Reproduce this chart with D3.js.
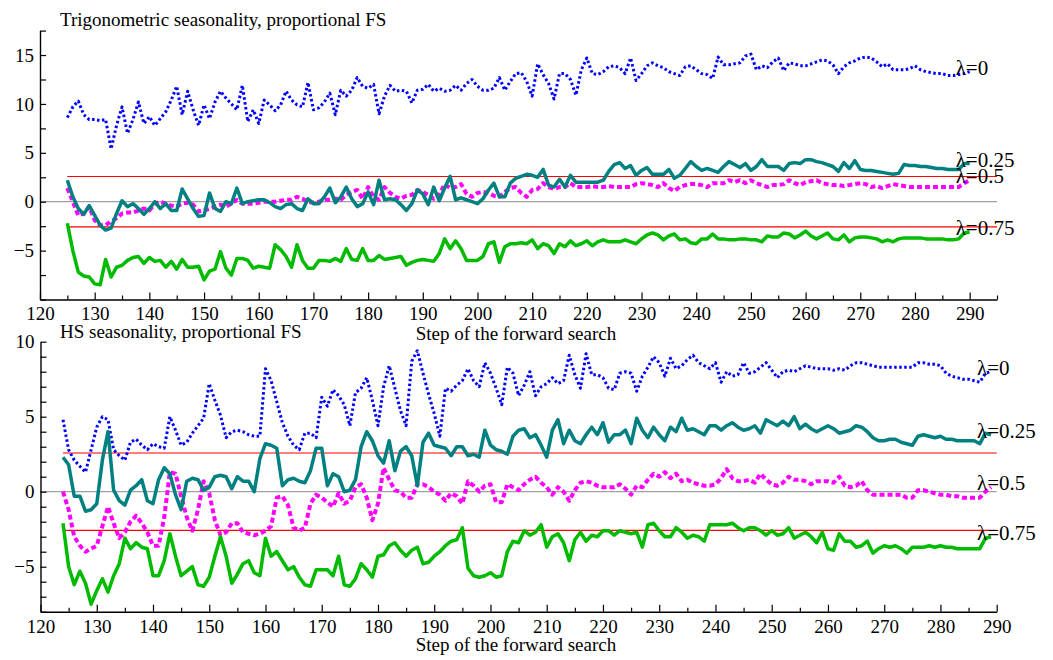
<!DOCTYPE html>
<html>
<head>
<meta charset="utf-8">
<script src="https://cdn.jsdelivr.net/npm/d3@7"></script>
<style>
    body { margin: 0; background: #fff; }
    svg text { font-family: "Liberation Serif", "Times New Roman", serif; fill: #000; }
</style>
</head>
<body>
<svg id="chart" width="1053" height="660"></svg>
<script>
// first step of the forward search shown in each panel
const topFirstStep = 125;
const bottomFirstStep = 124;

// Trigonometric seasonality, proportional FS (steps 125..290)
const topLambda0 = [
    8.6, 9.7, 10.3, 8.9, 8.4, 8.4, 8.3, 8.4, 5.4, 7.8,
    9.7, 7.0, 8.4, 10.2, 8.0, 8.7, 7.8, 8.5, 9.2, 10.4,
    11.8, 8.9, 11.3, 9.4, 7.8, 9.9, 8.5, 10.2, 11.3, 10.6,
    10.0, 9.4, 11.9, 8.2, 9.4, 8.0, 10.4, 9.9, 9.3, 9.9,
    11.3, 10.4, 9.9, 9.7, 12.2, 9.4, 9.6, 10.2, 11.1, 8.9,
    11.4, 10.8, 11.4, 12.7, 11.8, 11.6, 12.0, 9.0, 10.8, 11.9,
    11.3, 11.4, 11.3, 10.1, 11.4, 11.5, 12.0, 11.3, 11.6, 11.3,
    11.4, 11.9, 11.4, 12.1, 12.5, 11.8, 11.4, 11.4, 11.6, 12.7,
    11.4, 12.3, 13.1, 13.2, 12.3, 10.8, 14.1, 13.0, 12.1, 10.5,
    13.1, 13.1, 12.5, 10.9, 13.5, 14.7, 13.1, 13.0, 13.3, 13.8,
    13.9, 13.7, 13.1, 14.7, 12.4, 13.1, 13.9, 14.2, 13.9, 13.7,
    13.3, 13.1, 12.9, 13.8, 13.9, 13.5, 13.1, 13.0, 12.6, 14.8,
    14.0, 14.0, 14.1, 14.2, 14.9, 15.1, 13.5, 13.9, 13.7, 14.3,
    14.7, 13.4, 14.2, 14.1, 13.9, 13.9, 14.1, 14.3, 14.5, 14.4,
    14.0, 13.1, 13.8, 14.2, 14.4, 14.7, 14.8, 14.7, 14.3, 13.8,
    14.1, 13.5, 13.5, 13.5, 13.6, 13.9, 13.5, 13.3, 13.2, 13.1,
    13.1, 12.9, 12.9, 13.0, 13.1, 13.3
];
const topLambda025 = [
    2.2, 0.5, -0.7, -1.3, -0.4, -1.4, -2.4, -2.9, -2.7, -1.2,
    0.1, -0.5, -0.2, -0.7, -1.3, -0.7, 0.0, -0.7, -0.2, -0.9,
    -0.9, 1.3, 0.3, -0.7, -1.5, -1.4, 0.9, -0.7, -1.0, 0.0,
    -0.2, 1.4, -0.2, 0.0, 0.1, 0.2, 0.2, -0.1, -0.5, -0.7,
    -0.3, -0.2, -0.7, -0.9, 0.3, -0.2, -0.2, 0.5, 1.4, -0.1,
    0.5, 1.5, 0.3, -0.5, -0.2, 1.0, -0.3, 2.2, 0.2, 0.3,
    0.2, -0.3, -0.9, -0.2, 1.2, 0.8, -0.3, 1.5, 0.1, 1.4,
    2.6, 0.2, 0.4, 0.2, 0.0, -0.2, 0.3, 1.2, 1.9, 0.5,
    0.5, 1.9, 2.4, 2.6, 2.8, 2.7, 2.5, 3.3, 1.7, 1.5,
    2.3, 1.5, 2.7, 2.0, 2.0, 2.0, 2.0, 2.0, 2.2, 3.1,
    3.8, 4.0, 3.4, 3.7, 2.7, 3.2, 3.5, 2.8, 2.8, 2.8,
    3.3, 2.4, 2.7, 3.4, 4.1, 3.6, 3.2, 3.4, 3.2, 3.0,
    3.6, 4.1, 3.8, 3.5, 3.9, 3.2, 3.6, 4.3, 3.6, 3.6,
    3.6, 3.2, 3.9, 4.0, 3.9, 4.3, 4.3, 4.1, 4.0, 3.8,
    3.6, 3.1, 4.0, 3.4, 4.2, 3.3, 3.2, 3.2, 3.1, 3.0,
    2.9, 2.8, 2.9, 3.8, 3.7, 3.7, 3.6, 3.6, 3.5, 3.4,
    3.4, 3.3, 3.3, 3.3, 3.9, 3.9
];
const topLambda05 = [
    1.4, 0.0, -1.4, -1.2, -0.5, -1.9, -2.4, -2.4, -2.0, -1.7,
    -1.2, -1.1, -1.1, -0.9, -0.7, -0.9, -0.2, 0.0, -0.2, -0.4,
    -0.5, -0.2, -0.1, -0.3, -1.0, -0.9, -0.7, -0.5, -0.3, -0.5,
    -0.2, 0.2, -0.2, -0.2, -0.2, -0.1, 0.0, 0.0, 0.0, 0.1,
    0.2, 0.2, 0.5, 0.3, 0.0, -0.1, 0.0, 0.2, 0.2, 0.3,
    0.2, 0.7, 1.0, 1.2, 0.3, 1.5, 0.5, 0.2, 1.5, 0.9,
    0.5, 0.3, 0.6, 0.7, 1.2, 1.0, 0.7, 0.3, 0.7, 1.8,
    1.4, 1.5, 1.8, 0.8, 0.5, 0.9, 1.0, 0.9, 0.6, 0.5,
    1.0, 1.4, 1.5, 0.9, 0.5, 1.2, 1.3, 1.9, 1.5, 1.3,
    1.5, 1.5, 1.9, 1.5, 1.5, 1.5, 1.6, 1.5, 1.5, 1.6,
    1.5, 1.5, 1.5, 1.5, 1.8, 1.9, 1.8, 1.7, 1.5, 1.9,
    1.4, 1.1, 1.5, 1.7, 1.8, 1.8, 1.7, 1.5, 1.9, 1.9,
    1.9, 2.2, 2.0, 2.2, 1.9, 2.2, 1.9, 1.7, 1.5, 1.7,
    1.7, 1.8, 2.2, 1.9, 1.7, 2.0, 2.1, 2.2, 1.9, 1.8,
    1.7, 1.7, 1.6, 1.7, 1.8, 1.9, 1.8, 1.5, 1.6, 1.4,
    1.6, 1.8, 1.7, 1.6, 1.5, 1.5, 1.5, 1.5, 1.5, 1.5,
    1.5, 1.5, 1.5, 1.5, 1.9, 2.2
];
const topLambda075 = [
    -2.2, -5.0, -7.2, -7.6, -7.7, -8.4, -8.5, -5.9, -7.7, -6.7,
    -6.5, -6.0, -5.7, -5.6, -6.3, -5.7, -6.1, -6.0, -6.7, -6.1,
    -6.9, -5.9, -6.7, -6.7, -6.6, -8.0, -7.1, -6.9, -5.1, -6.8,
    -7.5, -5.8, -5.8, -6.0, -6.8, -6.6, -6.7, -6.8, -4.4, -4.9,
    -5.6, -6.7, -4.4, -6.0, -6.8, -6.8, -6.0, -6.0, -6.1, -5.8,
    -6.1, -4.8, -5.9, -6.0, -4.8, -6.0, -6.0, -5.5, -5.9, -5.8,
    -5.7, -5.6, -6.5, -6.2, -6.0, -5.9, -6.0, -6.1, -5.3, -3.8,
    -4.8, -4.0, -4.8, -6.0, -6.0, -6.0, -5.6, -4.3, -4.1, -6.2,
    -4.6, -4.3, -4.3, -4.2, -4.3, -3.9, -4.8, -4.3, -4.5, -5.3,
    -4.3, -4.6, -4.0, -4.5, -4.3, -4.0, -4.5, -4.1, -3.9, -4.1,
    -4.1, -4.1, -3.9, -4.1, -4.3, -3.8, -3.4, -3.2, -3.4, -3.9,
    -3.5, -3.3, -3.9, -3.8, -4.2, -4.3, -3.8, -3.8, -3.3, -3.8,
    -3.8, -3.9, -3.9, -3.8, -3.8, -3.9, -3.9, -4.1, -3.5, -3.6,
    -3.6, -3.2, -3.3, -3.7, -3.4, -3.0, -3.5, -3.8, -3.5, -3.2,
    -3.8, -3.9, -3.4, -4.1, -3.7, -3.6, -3.6, -3.7, -3.8, -4.1,
    -3.9, -4.1, -3.8, -3.7, -3.7, -3.7, -3.7, -3.8, -3.8, -3.8,
    -3.8, -3.9, -3.9, -3.8, -3.2, -3.1
];

// HS seasonality, proportional FS (steps 124..289)
const bottomLambda0 = [
    4.8, 2.8, 2.1, 1.7, 1.3, 2.8, 4.3, 5.0, 4.8, 2.8,
    2.4, 2.1, 3.3, 3.5, 3.1, 2.8, 3.2, 3.0, 2.9, 5.0,
    4.1, 3.1, 3.3, 3.9, 4.4, 4.9, 7.2, 6.1, 5.1, 3.6,
    4.0, 4.1, 4.0, 3.8, 3.7, 3.7, 8.2, 7.4, 6.0, 4.6,
    3.7, 3.1, 2.8, 3.9, 3.9, 3.6, 6.3, 5.7, 6.8, 6.4,
    5.8, 4.4, 6.6, 6.9, 7.6, 6.1, 4.4, 7.0, 8.4, 6.9,
    5.4, 4.4, 8.7, 9.4, 7.9, 6.5, 5.2, 3.7, 6.9, 6.7,
    7.1, 7.4, 8.2, 7.4, 7.0, 8.6, 7.9, 6.9, 5.8, 8.3,
    7.9, 6.4, 7.1, 8.0, 6.4, 7.0, 7.2, 7.6, 7.2, 7.4,
    9.1, 7.8, 6.9, 9.2, 7.8, 7.8, 7.6, 6.9, 6.8, 7.9,
    8.0, 7.9, 6.7, 7.7, 8.3, 9.0, 8.6, 7.7, 8.9, 8.2,
    8.4, 8.8, 9.1, 8.6, 8.4, 8.2, 8.6, 7.3, 8.0, 7.7,
    7.8, 8.6, 7.9, 8.0, 8.3, 8.6, 8.1, 7.6, 8.0, 8.1,
    8.0, 8.2, 8.4, 8.3, 8.2, 8.2, 8.2, 8.1, 8.2, 8.1,
    8.4, 8.6, 8.6, 8.5, 8.4, 8.3, 8.3, 8.3, 8.3, 8.3,
    8.3, 8.3, 8.6, 8.6, 8.5, 8.5, 8.4, 7.9, 7.7, 7.6,
    7.5, 7.5, 7.4, 7.3, 7.9, 8.0
];
const bottomLambda025 = [
    2.3, 1.8, -0.3, -0.3, -1.3, -1.2, -0.8, 2.1, 4.0, 0.1,
    -0.6, -0.9, 0.1, 0.4, 0.8, -0.6, -0.8, 0.8, 1.6, 1.2,
    -0.2, -1.2, 0.7, 0.9, 0.8, 0.1, 0.3, 1.0, 1.1, 1.0,
    0.2, 1.0, 0.7, 0.7, 0.0, 2.2, 3.2, 3.1, 2.9, 0.4,
    0.8, 0.9, 0.7, 0.6, 1.4, 2.9, 2.9, 0.4, 1.2, 1.0,
    0.0, 0.1, 0.8, 3.0, 4.0, 3.4, 2.4, 1.9, 3.4, 1.4,
    2.7, 3.0, 2.4, 0.4, 3.3, 3.9, 3.1, 3.0, 2.9, 2.4,
    3.0, 3.0, 2.4, 2.5, 2.3, 4.1, 3.1, 2.8, 2.7, 2.5,
    3.7, 4.1, 4.2, 3.6, 3.8, 3.1, 2.3, 4.1, 4.8, 3.2,
    4.1, 3.4, 3.2, 3.8, 4.3, 3.8, 4.6, 3.3, 3.8, 3.8,
    4.1, 3.2, 4.9, 4.1, 3.6, 4.3, 3.8, 3.4, 4.3, 4.0,
    4.9, 4.1, 4.2, 4.0, 3.8, 4.4, 4.4, 4.1, 4.4, 4.6,
    4.3, 4.1, 4.2, 4.4, 3.9, 4.8, 4.6, 4.4, 4.7, 4.4,
    5.0, 4.2, 4.5, 4.2, 4.0, 4.2, 4.4, 4.2, 3.9, 4.0,
    4.1, 4.4, 4.3, 4.0, 3.6, 3.4, 3.4, 3.5, 3.5, 3.3,
    3.2, 3.1, 3.7, 3.8, 3.7, 3.6, 3.7, 3.5, 3.5, 3.4,
    3.4, 3.4, 3.4, 3.2, 3.9, 3.8
];
const bottomLambda05 = [
    0.0, -1.2, -3.0, -3.6, -4.0, -3.8, -3.6, -2.3, -1.0, -2.1,
    -3.1, -2.7, -2.0, -1.6, -2.1, -2.7, -3.6, -3.6, -1.7, 1.3,
    1.2, -0.3, -1.7, -2.6, -1.2, 0.7, -0.1, -1.9, -2.9, -2.7,
    -2.1, -2.1, -2.7, -2.8, -2.9, -2.8, -2.6, -2.3, -0.4, -0.3,
    -0.9, -2.4, -2.6, -2.4, -0.8, -0.2, -0.4, -0.7, -1.0, -0.1,
    -0.8, -0.6, 0.3, 0.5, -0.4, -1.9, -0.8, 1.6, 0.8, 0.1,
    0.0, -0.4, -0.4, 0.5, 0.5, 0.3, 0.0, -0.2, -0.6, -0.1,
    -0.3, -0.8, 0.7, 0.4, 0.0, 0.4, 0.5, -0.7, -0.7, 0.5,
    0.3, 0.1, 0.5, 0.8, 1.0, 0.6, 0.3, -0.2, 0.3, 0.0,
    -0.6, 0.1, 0.6, 0.7, 0.6, 0.4, 0.3, 0.3, 0.3, 0.5,
    0.2, -0.2, 0.4, 0.3, 0.8, 1.2, 1.0, 1.3, 0.9, 1.2,
    0.7, 0.8, 0.6, 0.5, 0.4, 0.4, 0.5, 0.9, 1.5, 0.9,
    0.7, 0.7, 0.8, 0.6, 1.2, 0.8, 0.5, 0.4, 0.6, 1.0,
    0.8, 0.8, 0.7, 0.5, 0.7, 0.7, 0.7, 0.6, 1.0, 0.4,
    0.3, 0.4, 0.7, 0.1, -0.2, -0.2, -0.2, -0.2, -0.2, -0.2,
    -0.4, -0.4, 0.1, 0.1, 0.0, -0.1, -0.2, -0.2, -0.3, -0.3,
    -0.4, -0.4, -0.4, -0.4, 0.0, 0.3
];
const bottomLambda075 = [
    -2.1, -5.0, -6.2, -5.3, -6.1, -7.5, -6.6, -5.8, -6.7, -5.6,
    -4.8, -3.1, -3.8, -3.4, -3.7, -3.8, -5.6, -5.6, -4.6, -2.8,
    -4.3, -5.6, -5.3, -5.0, -6.2, -6.3, -5.7, -4.3, -3.0, -4.3,
    -6.1, -5.5, -4.8, -4.6, -5.4, -5.6, -3.1, -4.3, -4.0, -4.6,
    -5.2, -5.0, -5.7, -6.2, -6.3, -5.2, -5.2, -5.2, -5.6, -4.3,
    -6.2, -6.3, -5.8, -4.8, -5.2, -5.7, -4.3, -4.2, -3.6, -3.4,
    -3.9, -4.3, -3.9, -3.7, -4.8, -4.7, -4.3, -4.0, -3.6, -3.3,
    -3.2, -2.4, -5.1, -5.6, -5.7, -5.6, -5.4, -5.7, -5.6, -4.0,
    -3.3, -3.4, -2.6, -2.9, -2.7, -2.2, -3.7, -3.0, -2.8, -3.4,
    -4.6, -3.2, -2.7, -3.3, -2.9, -3.0, -2.6, -2.6, -2.9, -2.6,
    -2.7, -2.8, -2.7, -3.7, -2.2, -2.1, -2.6, -3.0, -3.0, -2.4,
    -2.7, -3.1, -2.9, -3.0, -3.3, -2.2, -2.2, -2.2, -2.2, -2.1,
    -2.4, -2.6, -2.4, -2.4, -2.6, -2.9, -2.6, -2.9, -2.8, -2.4,
    -3.1, -2.9, -2.7, -3.0, -3.4, -2.7, -3.8, -3.9, -2.8, -3.3,
    -3.3, -3.7, -3.6, -3.3, -4.1, -3.8, -3.6, -3.7, -3.6, -3.8,
    -4.1, -3.7, -3.7, -3.7, -3.6, -3.7, -3.6, -3.7, -3.7, -3.8,
    -3.8, -3.8, -3.8, -3.8, -3.1, -3.0
];

const lambdaLabels = ['λ=0', 'λ=0.25', 'λ=0.5', 'λ=0.75'];
const xTickLabels = [120, 130, 140, 150, 160, 170, 180, 190, 200, 210, 220, 230, 240, 250, 260, 270, 280, 290];
const topYTickLabels = [-5, 0, 5, 10, 15];
const bottomYTickLabels = [-5, 0, 5, 10];
const bandLevel = 2.58; // 99% normal band

// line styles, same order as lambdaLabels
const seriesStyle = [
    { color: '#0000ff', width: 3, dash: '2.5,2.5' },
    { color: '#008080', width: 3.5, dash: null },
    { color: '#ff00ff', width: 4, dash: '5,3' },
    { color: '#00bb00', width: 3.5, dash: null }
];
// magenta goes under teal
const drawOrder = [0, 2, 1, 3];

const panels = [
    {
        title: 'Trigonometric seasonality, proportional FS',
        firstStep: topFirstStep,
        series: [topLambda0, topLambda025, topLambda05, topLambda075],
        xDomain: [120, 295], xRange: [40, 997],
        yDomain: [-10, 17.5], yRange: [299.5, 30.6], yMinor: 2.5,
        yLabels: topYTickLabels,
        titleY: 26, xTitleY: 340, xPad: 7.5
    },
    {
        title: 'HS seasonality, proportional FS',
        firstStep: bottomFirstStep,
        series: [bottomLambda0, bottomLambda025, bottomLambda05, bottomLambda075],
        xDomain: [120, 290], xRange: [40.5, 996.7],
        yDomain: [-8, 10], yRange: [611.7, 341.7], yMinor: 1,
        yLabels: bottomYTickLabels,
        titleY: 338, xTitleY: 651, xPad: 8
    }
];

const svg = d3.select('#chart');
const fmt = d3.format('');

function drawPanel(p) {
    const g = svg.append('g');
    const x = d3.scaleLinear().domain(p.xDomain).range(p.xRange);
    const y = d3.scaleLinear().domain(p.yDomain).range(p.yRange);
    const lastStep = p.firstStep + p.series[0].length - 1;

    // zero line and +-2.58 bands
    g.append('line')
        .attr('x1', p.xRange[0]).attr('x2', p.xRange[1])
        .attr('y1', y(0)).attr('y2', y(0))
        .attr('stroke', '#a0a0a0').attr('stroke-width', 1.2);
    [bandLevel, -bandLevel].forEach(function (v) {
        g.append('line')
            .attr('x1', x(p.firstStep)).attr('x2', p.xRange[1])
            .attr('y1', y(v)).attr('y2', y(v))
            .attr('stroke', '#ff0000').attr('stroke-width', 1.2);
    });

    // y axis, ticks pointing inwards
    const yTicks = d3.range(p.yDomain[0], p.yDomain[1] + 0.001, p.yMinor);
    const yAxis = d3.axisLeft(y)
        .tickValues(yTicks)
        .tickSizeOuter(0)
        .tickSizeInner(-6)
        .tickPadding(6)
        .tickFormat(function (d) { return p.yLabels.indexOf(d) >= 0 ? fmt(d) : ''; });
    const yg = g.append('g')
        .attr('transform', 'translate(' + p.xRange[0] + ',0)')
        .call(yAxis);

    // x axis, majors every 10 longer than minors every 5
    const xTicks = d3.range(p.xDomain[0], p.xDomain[1] + 0.001, 5);
    const xAxis = d3.axisBottom(x)
        .tickValues(xTicks)
        .tickSizeOuter(0)
        .tickSizeInner(-7)
        .tickPadding(p.xPad)
        .tickFormat(function (d) { return xTickLabels.indexOf(d) >= 0 ? fmt(d) : ''; });
    const xg = g.append('g')
        .attr('transform', 'translate(0,' + p.yRange[0] + ')')
        .call(xAxis);
    xg.selectAll('.tick line')
        .attr('y2', function (d) { return d % 10 === 0 ? -7 : -4; });

    [yg, xg].forEach(function (a) {
        a.attr('font-family', null).attr('font-size', null);
        a.select('.domain').attr('stroke', '#000').attr('stroke-width', 1.4);
        a.selectAll('.tick line').attr('stroke', '#000').attr('stroke-width', 1.2);
        a.selectAll('.tick text').style('font-size', '19px');
    });

    // series
    const line = d3.line()
        .x(function (d, i) { return x(p.firstStep + i); })
        .y(function (d) { return y(d); });
    drawOrder.forEach(function (k) {
        const s = seriesStyle[k];
        g.append('path')
            .datum(p.series[k])
            .attr('d', line)
            .attr('fill', 'none')
            .attr('stroke', s.color)
            .attr('stroke-width', s.width)
            .attr('stroke-dasharray', s.dash)
            .attr('stroke-linejoin', 'round');
    });

    // lambda labels at the end of each curve
    p.series.forEach(function (vals, k) {
        g.append('text')
            .attr('x', x(lastStep) - 14)
            .attr('y', y(vals[vals.length - 1]) + 3)
            .style('font-size', '21px')
            .text(lambdaLabels[k]);
    });

    g.append('text')
        .attr('x', 60).attr('y', p.titleY)
        .style('font-size', '19px')
        .text(p.title);
    g.append('text')
        .attr('x', 516).attr('y', p.xTitleY)
        .attr('text-anchor', 'middle')
        .style('font-size', '19px')
        .text('Step of the forward search');
}

panels.forEach(drawPanel);
</script>
</body>
</html>
